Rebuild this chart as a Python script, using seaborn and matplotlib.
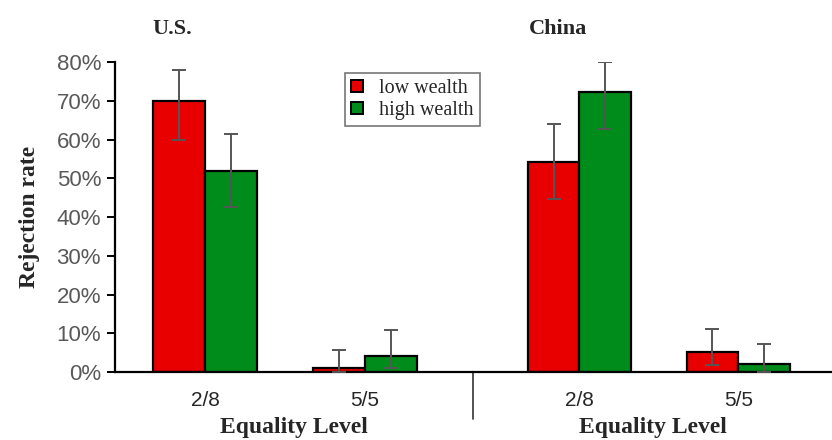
import pandas as pd
import numpy as np
import matplotlib.pyplot as plt
import seaborn as sns

# Values (rejection rate in %)
levels = ['2/8', '5/5']
wealth = ['low wealth', 'high wealth']
us_low = [70.0, 1.0]
us_high = [52.0, 4.1]
cn_low = [54.3, 5.2]
cn_high = [72.3, 2.1]
# error bar ends (lower, upper)
us_low_err = [(60.0, 78.0), (0.0, 5.7)]
us_high_err = [(42.5, 61.5), (1.0, 10.8)]
cn_low_err = [(44.6, 64.0), (1.8, 11.1)]
cn_high_err = [(62.7, 80.0), (0.0, 7.2)]

colors = {'low wealth': '#E80000', 'high wealth': '#008C1A'}

sns.set_style('white')
plt.rcParams['font.family'] = ['Liberation Serif', 'DejaVu Serif']


def make_df(low, high):
    return pd.DataFrame({
        'Equality Level': levels * 2,
        'Wealth': [wealth[0]] * 2 + [wealth[1]] * 2,
        'Rate': low + high,
    })


fig = plt.figure(figsize=(8.32, 4.4), dpi=100)
left, split, bottom, top = 0.1382, 0.5685, 0.1545, 0.859
ax1 = fig.add_axes([left, bottom, split - left, top - bottom])
ax2 = fig.add_axes([split, bottom, 1.0 - split, top - bottom])

panels = [
    (ax1, make_df(us_low, us_high), [us_low_err, us_high_err], 'U.S.', 0.105, (-0.5625, 1.675)),
    (ax2, make_df(cn_low, cn_high), [cn_low_err, cn_high_err], 'China', 0.155, (-0.67, 1.59)),
]

for ax, df, errs, title, tx, xl in panels:
    sns.barplot(data=df, x='Equality Level', y='Rate', hue='Wealth',
                order=levels, hue_order=wealth, palette=colors, saturation=1,
                width=0.65, edgecolor='black', linewidth=1.6,
                errorbar=None, legend=False, ax=ax)
    for cont, err in zip(ax.containers, errs):
        xs = [p.get_x() + p.get_width() / 2 for p in cont.patches]
        ys = [p.get_height() for p in cont.patches]
        lo = [y - e[0] for y, e in zip(ys, err)]
        hi = [e[1] - y for y, e in zip(ys, err)]
        ax.errorbar(xs, ys, yerr=[lo, hi], fmt='none', ecolor='#555555',
                    elinewidth=1.4, capsize=5, capthick=1.4, zorder=5)
    ax.set_ylim(0, 80)
    ax.set_xlim(*xl)
    ax.set_xlabel('Equality Level', fontsize=17, fontweight='bold', labelpad=5)
    ax.set_ylabel('')
    ax.text(tx, 1.075, title, transform=ax.transAxes, fontsize=16,
            fontweight='bold', ha='left', va='bottom')
    ax.tick_params(axis='x', length=0, pad=14)
    for lab in ax.get_xticklabels():
        lab.set_fontfamily(['Liberation Sans', 'DejaVu Sans'])
        lab.set_fontsize(15)
    for s in ['top', 'right']:
        ax.spines[s].set_visible(False)
    ax.spines['bottom'].set_linewidth(1.6)
    ax.spines['bottom'].set_color('black')

ax1.spines['left'].set_linewidth(1.6)
ax1.spines['left'].set_color('black')
ax1.set_yticks(np.arange(0, 81, 10))
ax1.set_yticklabels([f'{v}%' for v in range(0, 81, 10)],
                    fontfamily=['Liberation Sans', 'DejaVu Sans'],
                    fontsize=16, color='#595959')
ax1.tick_params(axis='y', direction='out', length=6, width=1.4, color='black', pad=4, left=True)
ax1.set_ylabel('Rejection rate', fontsize=17, fontweight='bold', labelpad=12)

ax2.spines['left'].set_visible(False)
ax2.set_yticks([])
# separator tick between the two panels
ax2.plot([0, 0], [0, -0.15], transform=ax2.transAxes, color='#333333',
         linewidth=1.2, clip_on=False)

handles = [plt.Rectangle((0, 0), 1, 1, facecolor=colors[w], edgecolor='black', linewidth=1.4)
           for w in wealth]
leg = fig.legend(handles, wealth, loc='upper left', bbox_to_anchor=(0.4147, 0.834),
                 fontsize=14.5, frameon=True, fancybox=False, edgecolor='#555555',
                 handlelength=0.6, handleheight=0.6, handletextpad=0.8,
                 borderpad=0.3, labelspacing=0.15, borderaxespad=0)
leg.get_frame().set_linewidth(1.2)

fig.savefig('out.png', dpi=100)
